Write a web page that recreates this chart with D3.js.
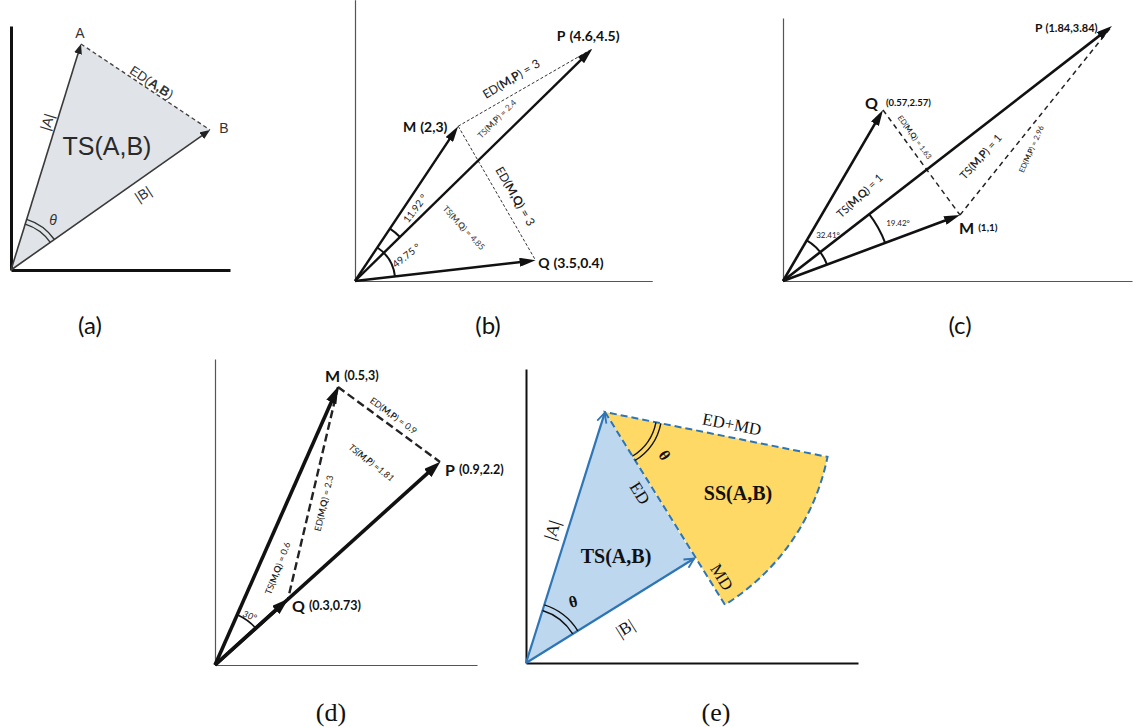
<!DOCTYPE html>
<html>
<head>
<meta charset="utf-8">
<script src="https://cdn.jsdelivr.net/npm/d3@7"></script>
<style>
  body { margin: 0; background: #fff; }
  svg { display: block; }
</style>
</head>
<body>
<svg id="fig" width="1133" height="727"></svg>
<script>
// ---------- data: vector tips (panel units) ----------
const vectorsA = [ {name: "A", x: 3.5, y: 11.3}, {name: "B", x: 9.95, y: 7.0} ];
const vectorsB = [ {name: "M", x: 2, y: 3}, {name: "P", x: 4.6, y: 4.5}, {name: "Q", x: 3.5, y: 0.4} ];
const vectorsC = [ {name: "P", x: 16.45, y: 12.75}, {name: "Q", x: 5.0, y: 8.55}, {name: "M", x: 8.85, y: 3.3} ];
const vectorsD = [ {name: "M", x: 6.15, y: 13.9}, {name: "P", x: 11.25, y: 10.15}, {name: "Q", x: 3.65, y: 3.3} ];
const vectorsE = [ {name: "A", x: 3.95, y: 12.55}, {name: "B", x: 8.45, y: 5.25} ];
const sectorE  = [ {name: "top", x: 15.35, y: 10.25}, {name: "bottom", x: 9.8, y: 3.15} ];

const coordsB = [ {name: "P", text: "(4.6,4.5)"}, {name: "M", text: "(2,3)"}, {name: "Q", text: "(3.5,0.4)"} ];
const coordsC = [ {name: "P", text: "(1.84,3.84)"}, {name: "Q", text: "(0.57,2.57)"}, {name: "M", text: "(1,1)"} ];
const coordsD = [ {name: "M", text: "(0.5,3)"}, {name: "P", text: "(0.9,2.2)"}, {name: "Q", text: "(0.3,0.73)"} ];

const measuresB = ["ED(**M,P**) = 3", "TS(**M,P**) = 2.4", "ED(**M,Q**) = 3", "TS(**M,Q**) = 4.85", "11.92 °", "49.75 °"];
const measuresC = ["ED(**M,Q**) = 1.63", "TS(**M,Q**) = 1", "TS(**M,P**) = 1", "ED(**M,P**) = 2.96", "32.41°", "19.42°"];
const measuresD = ["ED(**M,P**) = 0.9", "TS(**M,P**) =1.81", "ED(**M,Q**) = 2.3", "TS(**M,Q**) = 0.6", "30°"];
const captions  = ["(a)", "(b)", "(c)", "(d)", "(e)"];

// ---------- layout ----------
const SANS = "Lato, 'Open Sans', sans-serif";
const ARIAL = "'Liberation Sans', Arial, sans-serif";
const SERIF = "'Liberation Serif', 'Times New Roman', serif";

const svg = d3.select("#fig");
const defs = svg.append("defs");

function makePanel(ox, oy, unit, xMax, yMax) {
  const g = svg.append("g");
  const x = d3.scaleLinear().domain([0, xMax]).range([ox, ox + xMax * unit]);
  const y = d3.scaleLinear().domain([0, yMax]).range([oy, oy - yMax * unit]);
  return {g, x, y, unit};
}

function axes(p, color, width) {
  p.g.append("g").attr("transform", `translate(${p.x(0)},0)`)
    .call(d3.axisLeft(p.y).tickValues([]).tickSizeOuter(0));
  p.g.append("g").attr("transform", `translate(0,${p.y(0)})`)
    .call(d3.axisBottom(p.x).tickValues([]).tickSizeOuter(0));
  p.g.selectAll(".domain").attr("stroke", color).attr("stroke-width", width);
}

function marker(id, len, wid, color, open) {
  const m = defs.append("marker").attr("id", id)
    .attr("viewBox", "0 0 10 10").attr("preserveAspectRatio", "none")
    .attr("refX", open ? 9 : 5).attr("refY", 5)
    .attr("markerUnits", "userSpaceOnUse")
    .attr("markerWidth", len).attr("markerHeight", wid)
    .attr("orient", "auto");
  if (open) {
    m.append("path").attr("d", "M1,1 L9,5 L1,9").attr("fill", "none")
      .attr("stroke", color).attr("stroke-width", 1.8).attr("vector-effect", "non-scaling-stroke");
  } else {
    m.append("path").attr("d", "M0,0 L10,5 L0,10 Z").attr("fill", color);
  }
}

const pt = (p, d) => [p.x(d.x), p.y(d.y)];
const find = (arr, n) => arr.find(d => d.name === n);

function drawVectors(p, vecs, st) {
  const ox = p.x(0), oy = p.y(0);
  p.g.selectAll(null).data(vecs).join("line")
    .attr("x1", ox).attr("y1", oy)
    .attr("x2", d => { const [tx, ty] = pt(p, d); const L = Math.hypot(tx - ox, ty - oy); return tx - (tx - ox) / L * st.cut; })
    .attr("y2", d => { const [tx, ty] = pt(p, d); const L = Math.hypot(tx - ox, ty - oy); return ty - (ty - oy) / L * st.cut; })
    .attr("stroke", st.color).attr("stroke-width", st.width)
    .attr("marker-end", `url(#${st.marker})`);
}

function dashed(p, vecs, pairs, st) {
  p.g.selectAll(null).data(pairs).join("line")
    .attr("x1", d => p.x(find(vecs, d[0]).x)).attr("y1", d => p.y(find(vecs, d[0]).y))
    .attr("x2", d => p.x(find(vecs, d[1]).x)).attr("y2", d => p.y(find(vecs, d[1]).y))
    .attr("stroke", st.color).attr("stroke-width", st.width)
    .attr("stroke-dasharray", st.dash);
}

// arc around centre c between directions to points a and b, radius in units
function angleArc(p, c, a, b, r, st) {
  const [cx, cy] = pt(p, c);
  const [ax, ay] = pt(p, a), [bx, by] = pt(p, b);
  const a1 = Math.atan2(ay - cy, ax - cx), a2 = Math.atan2(by - cy, bx - cx);
  const path = d3.path();
  path.arc(cx, cy, r * p.unit, Math.min(a1, a2), Math.max(a1, a2));
  p.g.append("path").attr("d", path.toString())
    .attr("fill", "none").attr("stroke", st.color).attr("stroke-width", st.width);
}

function rich(sel, str) {
  str.split(/(\*\*[^*]+\*\*)/).filter(s => s).forEach(s => {
    const b = s.startsWith("**");
    sel.append("tspan").attr("font-weight", b ? "bold" : null).text(b ? s.slice(2, -2) : s);
  });
}

function label(p, text, pos, st) {
  const t = p.g.append("text")
    .attr("transform", `translate(${p.x(pos.x)},${p.y(pos.y)}) rotate(${pos.rot || 0})`)
    .attr("text-anchor", pos.anchor || "middle")
    .attr("dominant-baseline", "central")
    .attr("font-family", st.font).attr("font-size", pos.size || st.size)
    .attr("font-weight", pos.bold ? "bold" : null)
    .attr("font-style", pos.italic ? "italic" : null)
    .attr("fill", pos.color || st.color);
  rich(t, text);
}

function pointLabel(p, coord, pos) {
  const t = p.g.append("text")
    .attr("x", p.x(pos.x)).attr("y", p.y(pos.y))
    .attr("dominant-baseline", "central")
    .attr("font-family", SANS).attr("font-weight", "bold").attr("fill", "#111");
  t.append("tspan").attr("font-size", pos.nameSize).text(coord.name);
  t.append("tspan").attr("font-size", pos.coordSize).attr("dx", pos.gap || 4).text(coord.text);
}

// ---------- panel (a) ----------
{
  const p = makePanel(11, 270, 20, 10.95, 12.2);
  const O = {x: 0, y: 0}, A = find(vectorsA, "A"), B = find(vectorsA, "B");
  p.g.append("path")
    .attr("d", d3.line()([pt(p, O), pt(p, A), pt(p, B)]) + "Z")
    .attr("fill", "#e0e4e9");
  axes(p, "#111", 3);
  dashed(p, vectorsA, [["A", "B"]], {color: "#444", width: 1.4, dash: "4,3"});
  marker("arrA", 10, 8, "#222", false);
  drawVectors(p, vectorsA, {color: "#3a3a3a", width: 1.6, cut: 5, marker: "arrA"});
  angleArc(p, O, A, B, 2.4, {color: "#333", width: 1.4});
  angleArc(p, O, A, B, 2.65, {color: "#333", width: 1.4});
  const st = {font: ARIAL, size: 14, color: "#333"};
  label(p, "A", {x: 3.45, y: 11.85}, st);
  label(p, "B", {x: 10.65, y: 7.1}, st);
  label(p, "ED(**A,B**)", {x: 7.05, y: 9.4, rot: 33, size: 13}, st);
  label(p, "|A|", {x: 1.8, y: 7.4, rot: -73}, st);
  label(p, "TS(A,B)", {x: 4.8, y: 6.2, size: 25, color: "#2a2a2a"}, st);
  label(p, "|B|", {x: 6.6, y: 3.8, rot: -33}, st);
  label(p, "θ", {x: 2.1, y: 2.5, italic: true}, st);
}

// ---------- panel (b) ----------
{
  const p = makePanel(355, 281, 51.6, 5.76, 5.45);
  const O = {x: 0, y: 0};
  axes(p, "#555", 1.2);
  dashed(p, vectorsB, [["M", "P"], ["M", "Q"]], {color: "#333", width: 1, dash: "3,2"});
  marker("arrB", 16, 9, "#111", false);
  drawVectors(p, vectorsB, {color: "#111", width: 2.4, cut: 8, marker: "arrB"});
  angleArc(p, O, find(vectorsB, "M"), find(vectorsB, "P"), 1.22, {color: "#111", width: 2});
  angleArc(p, O, find(vectorsB, "M"), find(vectorsB, "Q"), 0.78, {color: "#111", width: 2});
  const st = {font: SANS, size: 12, color: "#222"};
  const pos = [
    {x: 3.02, y: 3.93, rot: -31},
    {x: 2.75, y: 3.14, rot: -45, size: 8.5, color: "#444"},
    {x: 3.12, y: 1.65, rot: 60},
    {x: 2.11, y: 1.03, rot: 47, size: 8.5, color: "#444"},
    {x: 1.16, y: 1.41, rot: -53, size: 10},
    {x: 0.99, y: 0.5, rot: -38, size: 10}
  ];
  measuresB.forEach((m, i) => label(p, m, pos[i], st));
  const cpos = {
    P: {x: 3.91, y: 4.77, nameSize: 14, coordSize: 14},
    M: {x: 0.93, y: 3.0, nameSize: 14, coordSize: 14},
    Q: {x: 3.55, y: 0.37, nameSize: 14, coordSize: 14}
  };
  coordsB.forEach(c => pointLabel(p, c, cpos[c.name]));
}

// ---------- panel (c) ----------
{
  const p = makePanel(783, 281, 20, 17.45, 13.15);
  const O = {x: 0, y: 0};
  axes(p, "#555", 1.2);
  dashed(p, vectorsC, [["Q", "M"], ["M", "P"]], {color: "#222", width: 1.5, dash: "5,4"});
  marker("arrC", 16, 9, "#111", false);
  drawVectors(p, vectorsC, {color: "#111", width: 2.6, cut: 8, marker: "arrC"});
  angleArc(p, O, find(vectorsC, "Q"), find(vectorsC, "M"), 2.35, {color: "#111", width: 2});
  angleArc(p, O, find(vectorsC, "P"), find(vectorsC, "M"), 5.45, {color: "#111", width: 2});
  const st = {font: SANS, size: 11, color: "#222"};
  const pos = [
    {x: 6.6, y: 7.2, rot: 54, size: 7.5},
    {x: 3.8, y: 4.3, rot: -43},
    {x: 9.85, y: 6.25, rot: -48},
    {x: 12.4, y: 6.6, rot: -66, size: 7.5},
    {x: 2.25, y: 2.3, size: 8},
    {x: 5.75, y: 2.9, size: 8}
  ];
  measuresC.forEach((m, i) => label(p, m, pos[i], st));
  const cpos = {
    P: {x: 12.6, y: 12.7, nameSize: 12, coordSize: 11, gap: 3},
    Q: {x: 4.1, y: 8.95, nameSize: 16, coordSize: 9.5, gap: 8},
    M: {x: 8.8, y: 2.7, nameSize: 16, coordSize: 10, gap: 4}
  };
  coordsC.forEach(c => pointLabel(p, c, cpos[c.name]));
}

// ---------- panel (d) ----------
{
  const p = makePanel(215, 665, 20, 13.1, 15.3);
  const O = {x: 0, y: 0};
  axes(p, "#555", 1.2);
  dashed(p, vectorsD, [["M", "P"], ["M", "Q"]], {color: "#222", width: 2.4, dash: "8,4"});
  marker("arrD", 17, 11, "#111", false);
  drawVectors(p, vectorsD, {color: "#111", width: 3.6, cut: 8, marker: "arrD"});
  angleArc(p, O, find(vectorsD, "M"), find(vectorsD, "P"), 2.75, {color: "#111", width: 1.6});
  const st = {font: SANS, size: 9, color: "#222"};
  const pos = [
    {x: 8.95, y: 12.5, rot: 36},
    {x: 7.85, y: 10.15, rot: 38, italic: true},
    {x: 5.4, y: 8.1, rot: -77},
    {x: 3.1, y: 4.85, rot: -69},
    {x: 1.75, y: 2.5, rot: 20, italic: true}
  ];
  measuresD.forEach((m, i) => label(p, m, pos[i], st));
  const cpos = {
    M: {x: 5.5, y: 14.5, nameSize: 16, coordSize: 12.5},
    P: {x: 11.5, y: 9.8, nameSize: 16, coordSize: 12.5},
    Q: {x: 3.85, y: 3.0, nameSize: 16, coordSize: 12.5}
  };
  coordsD.forEach(c => pointLabel(p, c, cpos[c.name]));
}

// ---------- panel (e) ----------
{
  const p = makePanel(526, 663, 20, 16.6, 14.7);
  const O = {x: 0, y: 0}, A = find(vectorsE, "A"), B = find(vectorsE, "B");
  const blue = "#2e75b6";
  const [ax, ay] = pt(p, A);
  const ends = sectorE.map(d => pt(p, d));
  const R = d3.mean(ends, e => Math.hypot(e[0] - ax, e[1] - ay));
  const aTop = Math.atan2(ends[0][1] - ay, ends[0][0] - ax);
  const aBot = Math.atan2(ends[1][1] - ay, ends[1][0] - ax);
  const sector = d3.path();
  sector.moveTo(ax, ay);
  sector.lineTo(ax + R * Math.cos(aBot), ay + R * Math.sin(aBot));
  sector.arc(ax, ay, R, aBot, aTop, true);
  sector.closePath();
  p.g.append("path").attr("d", sector.toString()).attr("fill", "#ffd966");
  p.g.append("path")
    .attr("d", d3.line()([pt(p, O), pt(p, A), pt(p, B)]) + "Z")
    .attr("fill", "#bdd7ee");
  p.g.append("path").attr("d", sector.toString())
    .attr("fill", "none").attr("stroke", blue).attr("stroke-width", 2).attr("stroke-dasharray", "7,4");
  axes(p, "#111", 2);
  marker("arrE", 12, 12, blue, true);
  drawVectors(p, vectorsE, {color: blue, width: 2.2, cut: 1, marker: "arrE"});
  const sTop = sectorE[0];
  angleArc(p, O, A, B, 2.75, {color: "#111", width: 1.4});
  angleArc(p, O, A, B, 3.05, {color: "#111", width: 1.4});
  angleArc(p, A, sTop, B, 2.6, {color: "#111", width: 1.4});
  angleArc(p, A, sTop, B, 2.85, {color: "#111", width: 1.4});
  const st = {font: SERIF, size: 17, color: "#111"};
  label(p, "ED+MD", {x: 10.3, y: 11.95, rot: 11}, st);
  label(p, "θ", {x: 6.95, y: 10.4, rot: 55, bold: true, size: 16}, st);
  label(p, "ED", {x: 5.7, y: 8.5, rot: 58}, st);
  label(p, "SS(A,B)", {x: 10.6, y: 8.5, bold: true, size: 20}, st);
  label(p, "TS(A,B)", {x: 4.5, y: 5.35, bold: true, size: 20}, st);
  label(p, "MD", {x: 9.8, y: 4.3, rot: 58}, st);
  label(p, "|A|", {x: 1.3, y: 6.65, rot: -72}, st);
  label(p, "|B|", {x: 4.95, y: 1.75, rot: -32}, st);
  label(p, "θ", {x: 2.35, y: 3.1, rot: -15, bold: true, size: 16}, st);
}

// ---------- captions ----------
const capPos = [
  {x: 90, y: 324, font: SANS, size: 24},
  {x: 488, y: 324, font: SANS, size: 24},
  {x: 960, y: 324, font: SANS, size: 24},
  {x: 331, y: 712, font: SERIF, size: 26},
  {x: 716, y: 712, font: SERIF, size: 26}
];
svg.selectAll("text.cap").data(captions).join("text")
  .attr("class", "cap")
  .attr("x", (d, i) => capPos[i].x).attr("y", (d, i) => capPos[i].y)
  .attr("text-anchor", "middle").attr("dominant-baseline", "central")
  .attr("font-family", (d, i) => capPos[i].font).attr("font-size", (d, i) => capPos[i].size)
  .attr("fill", "#111")
  .text(d => d);
</script>
</body>
</html>
